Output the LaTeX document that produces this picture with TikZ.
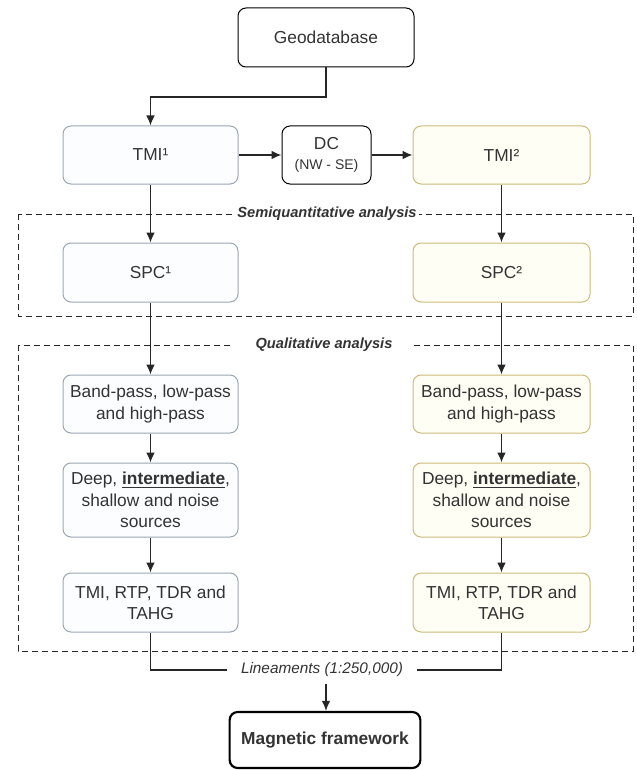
\documentclass[tikz,border=0pt]{standalone}
\usepackage{fontspec}
\setmainfont{Liberation Sans}
\usetikzlibrary{arrows.meta,positioning}
\definecolor{txt}{HTML}{333333}
\definecolor{blueline}{HTML}{9AA6B4}
\definecolor{bluefill}{HTML}{FCFDFF}
\definecolor{yelline}{HTML}{CDBA78}
\definecolor{yelfill}{HTML}{FFFEF5}
\tikzset{
  box/.style={draw, rounded corners=6pt, line width=0.75pt, align=center,
    text=txt, font=\fontsize{13}{16}\selectfont, inner sep=0pt},
  bbox/.style={box, draw=blueline, fill=bluefill, minimum width=131.25pt},
  ybox/.style={box, draw=yelline, fill=yelfill, minimum width=132.75pt},
  kbox/.style={box, draw=black},
  conn/.style={line width=1.1pt, draw=black!85},
  arr/.style={conn, -{Latex[length=7.5pt,width=6.5pt]}},
  region/.style={draw=black!85, dashed, dash pattern=on 4.5pt off 3pt, line width=0.75pt},
  rlabel/.style={fill=white, text=txt, inner sep=0pt},
}
\begin{document}
\begin{tikzpicture}[x=0.75pt,y=-0.75pt]
\useasboundingbox (0,0) rectangle (636,770);
% regions
\draw[region] (18,214) rectangle (633,316);
\draw[region] (18,345) rectangle (633,651);
% boxes
\node[kbox, minimum width=132pt, minimum height=44.25pt] (geo) at (326,37.5) {Geodatabase};
\node[bbox, minimum height=43.5pt] (tmiA) at (150.5,155) {TMI¹};
\node[kbox, minimum width=66.75pt, minimum height=43.5pt] (dc) at (326.5,155) {DC\\[-1pt]{\fontsize{10.5}{12}\selectfont(NW - SE)}};
\node[ybox, minimum height=43.5pt] (tmiB) at (501.5,155) {TMI²};
\node[bbox, minimum height=44.25pt] (spcA) at (150.5,272.5) {SPC¹};
\node[ybox, minimum height=44.25pt] (spcB) at (501.5,272.5) {SPC²};
\node[bbox, minimum height=43.5pt] (bpA) at (150.5,404) {Band-pass, low-pass\\and high-pass};
\node[ybox, minimum height=43.5pt] (bpB) at (501.5,404) {Band-pass, low-pass\\and high-pass};
\node[bbox, minimum height=55.5pt] (deepA) at (150.5,500) {Deep, \underline{\textbf{intermediate}},\\shallow and noise\\sources};
\node[ybox, minimum height=55.5pt] (deepB) at (501.5,500) {Deep, \underline{\textbf{intermediate}},\\shallow and noise\\sources};
\node[bbox, minimum height=44.25pt] (rtpA) at (150.5,602.5) {TMI, RTP, TDR and\\TAHG};
\node[ybox, minimum height=44.25pt] (rtpB) at (501.5,602.5) {TMI, RTP, TDR and\\TAHG};
\node[kbox, line width=1.6pt, minimum width=143pt, minimum height=42pt, font=\bfseries\fontsize{13}{16}\selectfont] (mag) at (325,740) {Magnetic framework};
% region labels
\node[rlabel, inner xsep=16pt, font=\bfseries\itshape\fontsize{11}{13}\selectfont] (qual) at (324,345) {Qualitative analysis};
\node[text=txt, inner xsep=10pt, inner ysep=3pt, font=\itshape\fontsize{11.5}{13}\selectfont] (lin) at (322,670) {Lineaments (1:250,000)};
% connectors
\coordinate (g1) at (326,97);
\coordinate (g2) at (150.5,97);
\coordinate (l1) at (326,684);
\draw[arr] (geo.south) -- (g1) -- (g2) -- (tmiA.north);
\draw[arr] (tmiA.east) -- (dc.west);
\draw[arr] (dc.east) -- (tmiB.west);
\draw[arr] (tmiA.south) -- (spcA.north);
\draw[arr] (tmiB.south) -- (spcB.north);
\draw[arr] (spcA.south) -- (bpA.north);
\draw[arr] (spcB.south) -- (bpB.north);
\draw[arr] (bpA.south) -- (deepA.north);
\draw[arr] (bpB.south) -- (deepB.north);
\draw[arr] (deepA.south) -- (rtpA.north);
\draw[arr] (deepB.south) -- (rtpB.north);
\draw[conn] (rtpA.south) |- (lin.west);
\draw[conn] (rtpB.south) |- (lin.east);
\draw[arr] (l1) -- (l1 |- mag.north);
% label above dashed line and arrow
\node[rlabel, inner xsep=2pt, font=\bfseries\itshape\fontsize{11}{13}\selectfont] (semi) at (327,214) {Semiquantitative analysis};
\end{tikzpicture}
\end{document}
